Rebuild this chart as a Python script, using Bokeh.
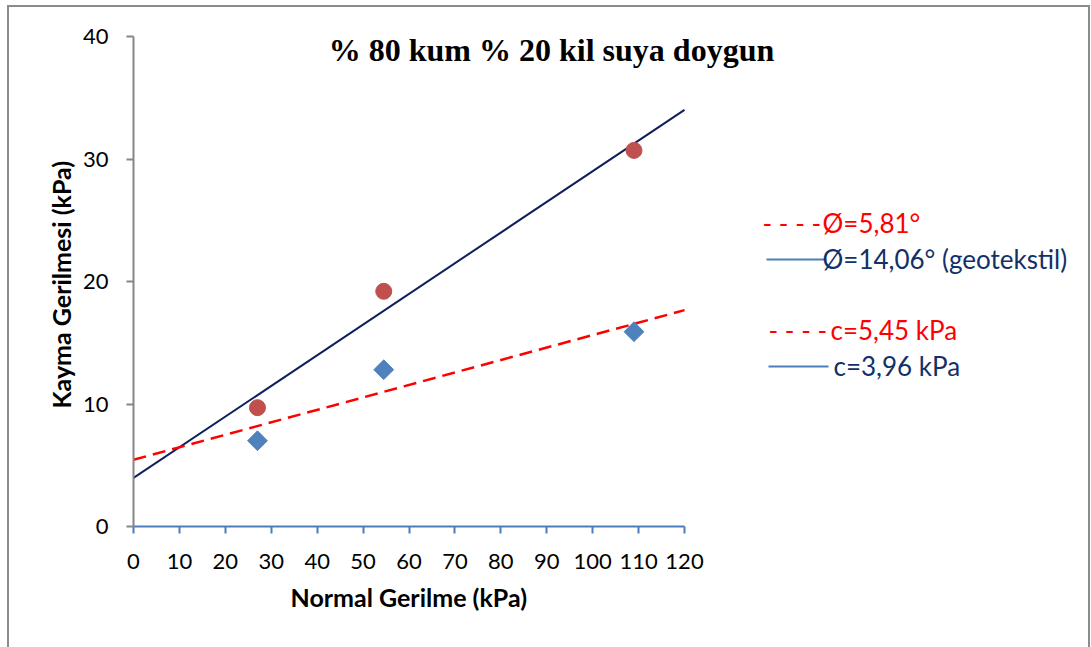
import math
from bokeh.plotting import figure
from bokeh.models import Label, Range1d, FixedTicker, Arrow, Title
from bokeh.embed import file_html
from bokeh.resources import INLINE

# ---- data ----
normal_stress = [27.0, 54.5, 109.0]          # kPa
shear_geotextile = [9.7, 19.2, 30.7]         # red circles
shear_soil = [7.0, 12.8, 15.9]               # blue diamonds
phi_soil, c_soil = 5.81, 5.45                # red dashed fit
phi_geo, c_geo = 14.06, 3.96                 # navy solid fit
x_ticks = [0, 10, 20, 30, 40, 50, 60, 70, 80, 90, 100, 110, 120]
y_ticks = [0, 10, 20, 30, 40]
title_text = "% 80 kum % 20 kil suya doygun"
x_label = "Normal Gerilme (kPa)"
y_label = "Kayma Gerilmesi (kPa)"
legend_texts = ["Ø=5,81°", "Ø=14,06° (geotekstil)", "c=5,45 kPa", "c=3,96 kPa"]

fit_x = [0, 120]
fit_soil = [c_soil + math.tan(math.radians(phi_soil)) * x for x in fit_x]
fit_geo = [c_geo + math.tan(math.radians(phi_geo)) * x for x in fit_x]

W, H = 1091, 647
AX_L, AX_R, AX_T, AX_B = 133, 684, 36, 526   # where 0..120 / 0..40 land (px)
sx = 120 / (AX_R - AX_L)
sy = 40 / (AX_B - AX_T)
x_end = (W - AX_L) * sx
y_end = 40 + AX_T * sy

p = figure(width=W, height=H, output_backend="svg", toolbar_location=None,
           x_range=Range1d(0, x_end), y_range=Range1d(0, y_end),
           min_border_left=AX_L, min_border_right=0,
           min_border_top=0, min_border_bottom=H - AX_B)
p.background_fill_color = None
p.border_fill_color = None
p.outline_line_color = None
p.grid.visible = False
p.styles = {
    "background-color": "white",
    "background-image": "linear-gradient(#8c8c8c,#8c8c8c), linear-gradient(#8c8c8c,#8c8c8c), linear-gradient(#8c8c8c,#8c8c8c)",
    "background-size": "2px 700px, 1083px 2px, 2px 700px",
    "background-position": "7px 5px, 7px 5px, 1088px 5px",
    "background-repeat": "no-repeat",
}

FONT = "Lato"
for ax in (p.xaxis[0], p.yaxis[0]):
    ax.minor_tick_line_color = None
    ax.major_label_text_font = FONT
    ax.major_label_text_font_size = "22px"
    ax.major_label_text_color = "black"
    ax.major_tick_in = 0
    ax.major_tick_out = 7
    ax.axis_line_width = 2
    ax.major_tick_line_width = 2

p.xaxis.bounds = (0, 120)
p.yaxis.bounds = (0, 40)
p.xaxis.ticker = FixedTicker(ticks=x_ticks)
p.yaxis.ticker = FixedTicker(ticks=y_ticks)
p.xaxis.axis_line_color = "#4a7ebb"
p.xaxis.major_tick_line_color = "#4a7ebb"
p.yaxis.axis_line_color = "#868686"
p.yaxis.major_tick_line_color = "#868686"
p.xaxis.major_label_standoff = 20
p.yaxis.major_label_standoff = 18

# axis titles as side-panel titles so they can sit where the original has them
p.add_layout(Title(text=x_label, align="left", offset=157, text_font=FONT,
                   text_font_style="bold", text_font_size="25px", text_color="black",
                   standoff=16), "below")
p.add_layout(Title(text=y_label, align="left", offset=118, text_font=FONT,
                   text_font_style="bold", text_font_size="25px", text_color="black",
                   standoff=8), "left")

def dx(px):  # px -> data x
    return (px - AX_L) * sx
def dy(py):
    return (AX_B - py) * sy

# fit lines
p.line(fit_x, fit_geo, line_color="#0c1f5c", line_width=2)
p.line(fit_x, fit_soil, line_color="#ff0000", line_width=2.5, line_dash="13 7")

# points
p.scatter(normal_stress, shear_geotextile, marker="circle", size=16,
          fill_color="#c0504d", line_color="#c0504d")
p.scatter(normal_stress, shear_soil, marker="square", size=14, angle=math.pi / 4,
          fill_color="#4f81bd", line_color="#4f81bd")

p.add_layout(Label(x=dx(551), y=dy(49), text=title_text, text_font="Liberation Serif",
                   text_font_style="bold", text_font_size="32px", text_align="center",
                   text_baseline="middle", text_color="black"))

# legend-like annotations
RED, NAVY, BLUE = "#ff0000", "#12306a", "#4a7ebb"
rows = [(222, RED, "dash", 762, 822, legend_texts[0]),
        (258, NAVY, "line", 766, 822, legend_texts[1]),
        (329, RED, "dash", 768, 830, legend_texts[2]),
        (365, NAVY, "line", 768, 833, legend_texts[3])]
for yc, col, kind, x0, xt, txt in rows:
    if kind == "dash":
        p.add_layout(Label(x=dx(x0), y=dy(yc), text="- - - -", text_color=col,
                           text_font=FONT, text_font_size="26px", text_baseline="middle"))
    else:
        p.add_layout(Arrow(x_start=dx(x0), y_start=dy(yc + 1), x_end=dx(x0 + 60), y_end=dy(yc + 1),
                           end=None, line_color=BLUE, line_width=2))
    p.add_layout(Label(x=dx(xt), y=dy(yc), text=txt, text_color=col,
                       text_font=FONT, text_font_size="26px", text_baseline="middle"))

open("out.html", "w").write(file_html(p, INLINE))
